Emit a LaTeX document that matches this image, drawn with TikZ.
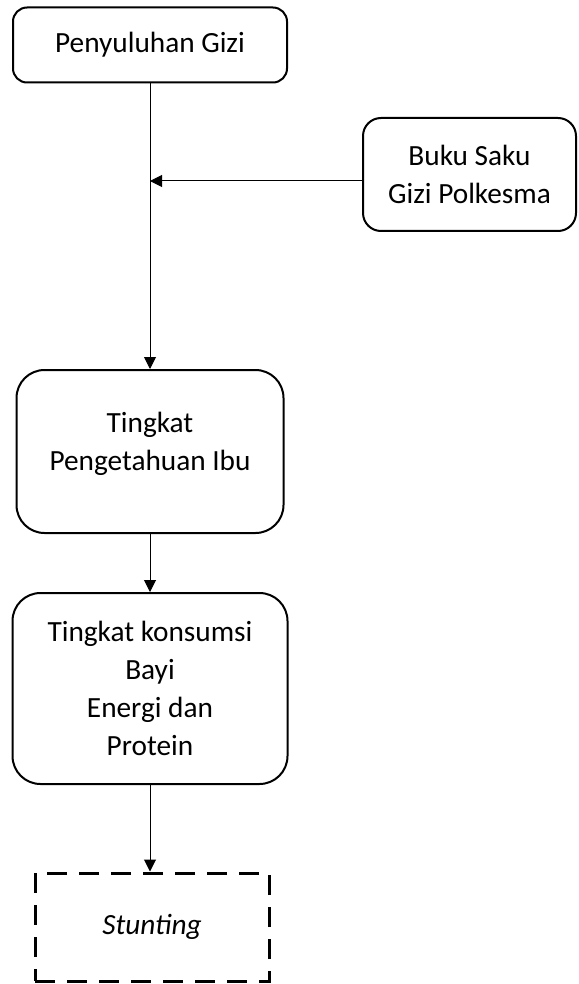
\documentclass[tikz,border=0pt]{standalone}
\usepackage{fontspec}
\setmainfont{Carlito}
\usetikzlibrary{arrows.meta}
\begin{document}
\begin{tikzpicture}[x=1pt,y=-1pt,
  txt/.style={align=center, inner sep=0pt, font=\fontsize{29.3}{38}\selectfont},
  box/.style={draw, line width=2pt, rounded corners=#1, txt},
  box/.default=14pt,
  dbox/.style={draw, line width=3pt, dash pattern=on 20pt off 12pt, txt, font=\fontsize{29.3}{38}\selectfont\itshape},
  arr/.style={line width=1pt, -{Triangle[length=12pt,width=12pt]}}]
\useasboundingbox (0,0) rectangle (578,984);
\node[box=14pt, minimum width=274pt, minimum height=75pt] (b1) at (150,45) {Penyuluhan Gizi};
\node[box=18pt, minimum width=213pt, minimum height=113pt] (buku) at (469.5,174.5) {Buku Saku\\Gizi Polkesma};
\node[box=28pt, minimum width=267pt, minimum height=163pt] (b2) at (150,451.5) {};
\node[txt] (b2t) at ([yshift=8pt]b2.center) {Tingkat\\Pengetahuan Ibu};
\node[box=28pt, minimum width=275pt, minimum height=191pt] (b3) at (150,688.5) {Tingkat konsumsi\\Bayi\\Energi dan\\Protein};
\node[dbox, minimum width=234pt, minimum height=108pt] (st) at (152,927) {Stunting};
\coordinate (j) at (150,181);
\draw[arr] (b1) -- (b2);
\draw[arr] (j -| buku.west) -- (j);
\draw[arr] (b2) -- (b3);
\draw[arr] (b3) -- (b3 |- st.north);
\end{tikzpicture}
\end{document}
